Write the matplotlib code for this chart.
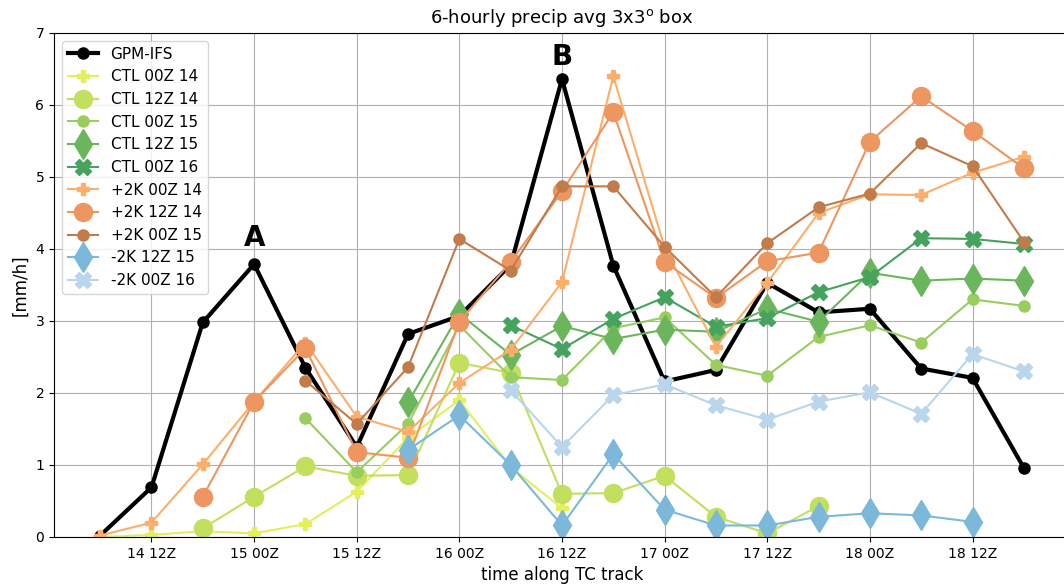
import numpy as np
import matplotlib.pyplot as plt

nan = np.nan

# 6-hourly steps along the track, 14 06Z ... 18 18Z
steps = np.arange(19)
tick_pos = [1, 3, 5, 7, 9, 11, 13, 15, 17]
tick_labels = ['14 12Z', '15 00Z', '15 12Z', '16 00Z', '16 12Z',
               '17 00Z', '17 12Z', '18 00Z', '18 12Z']

gpm = [0.02, 0.69, 2.98, 3.79, 2.35, 1.25, 2.82, 3.07, 3.78, 6.36,
       3.77, 2.16, 2.32, 3.53, 3.12, 3.17, 2.34, 2.21, 0.96]

ctl_00z14 = [0.0, 0.03, 0.08, 0.05, 0.18, 0.63, 1.38, 1.9, 0.97, 0.4,
             nan, nan, nan, nan, nan, nan, nan, nan, nan]
ctl_12z14 = [nan, nan, 0.12, 0.56, 0.98, 0.85, 0.86, 2.42, 2.28, 0.6,
             0.61, 0.85, 0.28, 0.05, 0.43, nan, nan, nan, nan]
ctl_00z15 = [nan, nan, nan, nan, 1.65, 0.9, 1.57, 2.94, 2.22, 2.18,
             2.9, 3.05, 2.39, 2.24, 2.78, 2.94, 2.7, 3.3, 3.21]
ctl_12z15 = [nan, nan, nan, nan, nan, nan, 1.87, 3.1, 2.53, 2.93,
             2.75, 2.88, 2.85, 3.17, 2.99, 3.67, 3.56, 3.59, 3.56]
ctl_00z16 = [nan, nan, nan, nan, nan, nan, nan, nan, 2.94, 2.61,
             3.03, 3.33, 2.92, 3.04, 3.4, 3.61, 4.15, 4.14, 4.07]
p2k_00z14 = [0.02, 0.2, 1.01, 1.88, 2.7, 1.67, 1.46, 2.14, 2.6, 3.54,
             6.4, 4.02, 2.64, 3.53, 4.5, 4.76, 4.75, 5.06, 5.28]
p2k_12z14 = [nan, nan, 0.56, 1.88, 2.62, 1.18, 1.1, 2.99, 3.82, 4.8,
             5.9, 3.82, 3.32, 3.83, 3.95, 5.49, 6.12, 5.64, 5.12]
p2k_00z15 = [nan, nan, nan, nan, 2.17, 1.57, 2.36, 4.14, 3.7, 4.87,
             4.87, 4.03, 3.33, 4.08, 4.58, 4.77, 5.47, 5.15, 4.1]
m2k_12z15 = [nan, nan, nan, nan, nan, nan, 1.21, 1.69, 1.0, 0.16,
             1.15, 0.38, 0.16, 0.16, 0.28, 0.33, 0.3, 0.21, nan]
m2k_00z16 = [nan, nan, nan, nan, nan, nan, nan, nan, 2.04, 1.25,
             1.97, 2.12, 1.83, 1.63, 1.88, 2.01, 1.71, 2.54, 2.3]

fig = plt.figure(figsize=(10.64, 5.87), dpi=100)
# right edge of the axes falls just outside the saved picture
ax = fig.add_axes([54/1064, 50/587, 1016/1064, 504/587])

ax.plot(steps, gpm, '-o', color='k', lw=3, ms=8, label='GPM-IFS')

ax.plot(steps, ctl_00z14, '-P', color='#e3f05c', lw=1.5, ms=9, label='CTL 00Z 14')
ax.plot(steps, ctl_12z14, '-o', color='#c2df5e', lw=1.5, ms=13, label='CTL 12Z 14')
ax.plot(steps, ctl_00z15, '-o', color='#9acd5f', lw=1.5, ms=8, label='CTL 00Z 15')
ax.plot(steps, ctl_12z15, '-d', color='#6bb65c', lw=1.5, ms=15, label='CTL 12Z 15')
ax.plot(steps, ctl_00z16, '-X', color='#45a35d', lw=1.5, ms=11, label='CTL 00Z 16')
ax.plot(steps, p2k_00z14, '-P', color='#fdae6b', lw=1.5, ms=9, label='+2K 00Z 14')
ax.plot(steps, p2k_12z14, '-o', color='#ee9660', lw=1.5, ms=13, label='+2K 12Z 14')
ax.plot(steps, p2k_00z15, '-o', color='#c27b4a', lw=1.5, ms=8, label='+2K 00Z 15')
ax.plot(steps, m2k_12z15, '-d', color='#7bb8da', lw=1.5, ms=15, label='-2K 12Z 15')
ax.plot(steps, m2k_00z16, '-X', color='#b9d6ec', lw=1.5, ms=11, label='-2K 00Z 16')

ax.text(3, 4.15, 'A', fontsize=20, fontweight='bold', ha='center', va='center')
ax.text(9, 6.67, 'B', fontsize=20, fontweight='bold', ha='center', va='center')

ax.set_xlim(-0.9, 18.9)
ax.set_ylim(0, 7)
ax.set_xticks(tick_pos)
ax.set_xticklabels(tick_labels)
ax.grid(True)
ax.set_title('6-hourly precip avg 3x3$^{\\mathrm{o}}$ box', fontsize=13, pad=7)
ax.set_xlabel('time along TC track', fontsize=12)
ax.set_ylabel('[mm/h]', fontsize=12)
ax.legend(loc='upper left', fontsize=11)

fig.savefig('out.png', dpi=100)
